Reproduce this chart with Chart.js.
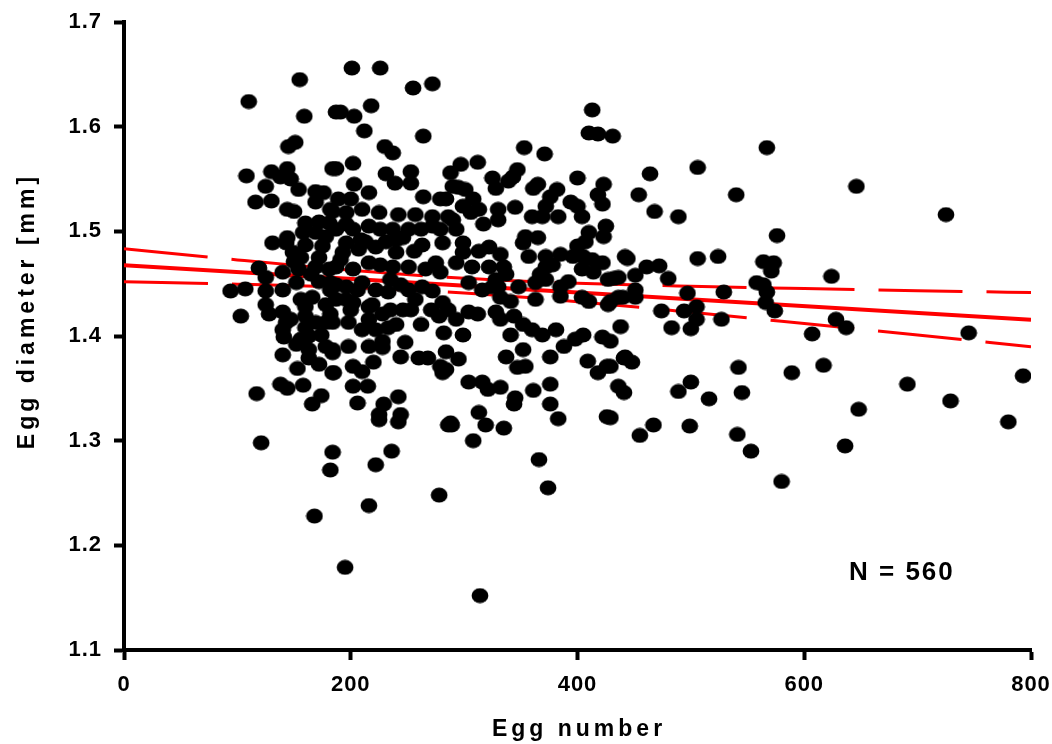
<!DOCTYPE html>
<html>
<head>
<meta charset="utf-8">
<script src="https://cdn.jsdelivr.net/npm/chart.js@4/dist/chart.umd.min.js"></script>
<style>
  body { margin: 0; background: #fff; }
  #wrap { width: 1052px; height: 744px; }
</style>
</head>
<body>
<div id="wrap"><canvas id="egg-chart"></canvas></div>
<script>
// egg number vs egg diameter (mm)
const eggNumber = [
  155,110,159,187,151,145,108,130,144,138,147,184,125,154,169,176,116,130,169,144,150,182,160,172,181,131,144,158,169,178,160,175,
  143,149,150,119,125,140,154,169,181,94,107,125,140,152,125,128,103,140,143,160,160,169,178,140,141,160,163,178,140,163,163,172,184,184,153,138,144,158,117,174,166,172,182,166,178,156,182,152,
  121,184,182,168,
  201,226,255,272,218,191,203,212,264,230,237,187,202,231,239,253,253,203,216,288,290,189,200,264,279,184,196,210,225,242,257,272,286,187,202,216,237,251,272,196,213,231,246,263,281,
  193,207,222,240,256,275,279,187,202,216,237,251,182,196,210,222,233,251,263,272,281,278,246,253,187,202,216,184,198,216,228,233,282,184,198,216,228,228,244,248,260,268,284,185,202,210,220,279,281,202,215,206,229,225,242,244,288,
  225,242,286,236,222,278,216,195,
  413,410,418,431,353,371,297,312,325,328,343,347,339,400,423,418,422,361,365,295,301,382,376,372,308,394,400,299,306,313,330,330,317,345,360,369,383,404,290,293,284,425,410,423,354,365,352,407,400,322,313,299,299,332,357,372,385,396,405,413,422,442,293,307,322,335,372,378,404,414,337,328,367,372,436,427,304,325,348,363,392,385,
  316,330,363,341,332,385,404,410,427,436,286,304,312,328,332,344,352,341,360,369,381,293,299,388,398,405,422,438,352,337,376,295,284,347,354,409,426,418,441,304,316,321,332,361,376,345,344,376,436,441,313,319,335,383,426,289,308,366,374,314,
  567,464,506,646,454,540,725,468,489,576,444,506,524,564,573,571,461,472,451,432,480,624,558,564,567,566,451,451,440,429,497,529,574,474,494,505,505,527,483,500,628,637,607,745,429,442,448,429,542,589,617,793,500,489,516,545,691,729,429,648,780,467,455,499,541,553,636,580,
  147,156,174,187,165,156,172,191,196,206,200,210,222,219,235,240,235,226,244,257,266,262,271,196,209,226,262,240,279
];
const eggDiameter = [
  1.645,1.624,1.610,1.614,1.585,1.581,1.553,1.557,1.560,1.552,1.550,1.560,1.543,1.540,1.538,1.537,1.528,1.529,1.528,1.521,1.519,1.521,1.508,1.509,1.508,1.489,1.494,1.499,1.499,1.495,1.487,1.486,
  1.489,1.480,1.471,1.465,1.456,1.461,1.464,1.466,1.464,1.443,1.445,1.443,1.444,1.451,1.430,1.421,1.419,1.423,1.413,1.428,1.419,1.413,1.413,1.406,1.399,1.408,1.400,1.390,1.382,1.387,1.379,1.373,1.384,1.365,1.369,1.354,1.350,1.353,1.345,1.343,1.335,1.452,1.444,1.437,1.430,1.435,1.421,1.392,
  1.298,1.289,1.272,1.228,
  1.656,1.656,1.637,1.641,1.620,1.614,1.610,1.596,1.591,1.581,1.575,1.560,1.565,1.555,1.546,1.557,1.546,1.545,1.537,1.556,1.543,1.531,1.531,1.533,1.531,1.519,1.518,1.521,1.518,1.516,1.516,1.514,1.514,1.502,1.502,1.505,1.502,1.502,1.505,1.489,1.490,1.490,1.494,1.487,1.489,
  1.480,1.483,1.485,1.480,1.481,1.470,1.461,1.466,1.464,1.470,1.466,1.466,1.451,1.447,1.451,1.444,1.442,1.444,1.447,1.443,1.432,1.419,1.425,1.425,1.435,1.432,1.428,1.413,1.413,1.416,1.421,1.408,1.403,1.387,1.390,1.390,1.395,1.389,1.380,1.394,1.379,1.379,1.385,1.365,1.371,1.366,1.375,1.371,1.365,1.352,1.352,1.336,1.335,1.325,1.342,1.325,1.317,
  1.320,1.318,1.315,1.290,1.277,1.248,1.238,1.179,
  1.616,1.594,1.593,1.591,1.580,1.574,1.564,1.566,1.551,1.541,1.552,1.559,1.548,1.551,1.545,1.535,1.526,1.541,1.545,1.542,1.540,1.540,1.533,1.524,1.531,1.528,1.524,1.524,1.518,1.521,1.521,1.511,1.507,1.523,1.514,1.514,1.514,1.514,1.511,1.502,1.531,1.505,1.499,1.495,1.495,1.494,1.489,1.490,1.486,1.485,1.481,1.489,1.480,1.478,1.476,1.476,1.478,1.476,1.476,1.473,1.470,1.476,1.470,1.466,1.466,1.466,1.466,1.468,1.464,1.461,1.459,1.454,1.459,1.454,1.456,1.454,1.451,1.447,1.447,1.451,1.452,1.447,
  1.444,1.447,1.435,1.433,1.437,1.438,1.437,1.433,1.430,1.437,1.425,1.423,1.421,1.423,1.416,1.419,1.411,1.401,1.406,1.401,1.406,1.416,1.401,1.390,1.397,1.401,1.399,1.409,1.387,1.380,1.380,1.378,1.368,1.370,1.371,1.376,1.371,1.365,1.379,1.356,1.356,1.349,1.351,1.348,1.354,1.341,1.335,1.335,1.352,1.346,1.327,1.315,1.312,1.321,1.323,1.315,1.300,1.282,1.255,1.152,
  1.580,1.555,1.561,1.543,1.535,1.535,1.516,1.519,1.514,1.496,1.474,1.474,1.476,1.471,1.470,1.462,1.466,1.467,1.458,1.455,1.455,1.457,1.451,1.449,1.442,1.432,1.444,1.437,1.437,1.433,1.441,1.442,1.424,1.424,1.424,1.428,1.416,1.416,1.408,1.407,1.416,1.408,1.402,1.403,1.395,1.380,1.375,1.371,1.370,1.365,1.372,1.362,1.356,1.347,1.340,1.346,1.354,1.338,1.322,1.330,1.318,1.315,1.305,1.314,1.306,1.290,1.295,1.261,
  1.416,1.397,1.401,1.449,1.459,1.475,1.475,1.473,1.435,1.444,1.425,1.406,1.406,1.430,1.425,1.411,1.454,1.468,1.449,1.435,1.464,1.411,1.425,1.507,1.492,1.502,1.502,1.492,1.502
];

// regression line and 95% band
const fitX = [0, 800];
const fitY = [1.4676, 1.4156];
const bandX = [0, 100, 200, 300, 400, 500, 600, 700, 800];
const bandUpper = [1.4834, 1.4727, 1.4629, 1.4551, 1.4504, 1.4475, 1.4453, 1.4433, 1.4415];
const bandLower = [1.4518, 1.4495, 1.4463, 1.4411, 1.4328, 1.4227, 1.4119, 1.4009, 1.3897];

const xTicks = [0, 200, 400, 600, 800];
const yTicks = [1.1, 1.2, 1.3, 1.4, 1.5, 1.6, 1.7];

const FONT = '"Liberation Sans", Arial, sans-serif';

// black oval marker
const dot = document.createElement('canvas');
dot.width = 18;
dot.height = 16;
const dctx = dot.getContext('2d');
dctx.fillStyle = '#000';
dctx.beginPath();
dctx.ellipse(9, 8, 8.4, 7.4, 0, 0, Math.PI * 2);
dctx.fill();

const pts = eggNumber.map((x, i) => ({ x: x, y: eggDiameter[i] }));
const toXY = (xs, ys) => xs.map((x, i) => ({ x: x, y: ys[i] }));

const textPlugin = {
    id: 'textPlugin',
    beforeDraw(chart) {
        chart.ctx.letterSpacing = '1px';
    },
    afterDraw(chart) {
        const ctx = chart.ctx;
        ctx.save();
        ctx.fillStyle = '#000';
        ctx.letterSpacing = '4px';
        ctx.font = 'bold 23px ' + FONT;
        ctx.textAlign = 'center';
        ctx.textBaseline = 'alphabetic';
        ctx.fillText('Egg number', 579, 736);

        ctx.save();
        ctx.translate(34, 313);
        ctx.rotate(-Math.PI / 2);
        ctx.fillText('Egg diameter [mm]', 2, 0);
        ctx.restore();

        ctx.letterSpacing = '2px';
        ctx.font = 'bold 26px ' + FONT;
        ctx.textAlign = 'left';
        ctx.fillText('N = 560', 849, 580);
        ctx.restore();
    }
};

const ctx = document.getElementById('egg-chart').getContext('2d');
new Chart(ctx, {
    type: 'scatter',
    data: {
        datasets: [
            {
                label: 'Eggs',
                data: pts,
                pointStyle: dot,
                pointRadius: 8,
                order: 0
            },
            {
                type: 'line',
                label: 'Fit',
                data: toXY(fitX, fitY),
                borderColor: '#ff0000',
                borderWidth: 4,
                pointRadius: 0,
                fill: false,
                order: 1
            },
            {
                type: 'line',
                label: 'Upper',
                data: toXY(bandX, bandUpper),
                borderColor: '#ff0000',
                borderWidth: 3,
                borderDash: [84, 24],
                cubicInterpolationMode: 'monotone',
                pointRadius: 0,
                fill: false,
                order: 2
            },
            {
                type: 'line',
                label: 'Lower',
                data: toXY(bandX, bandLower),
                borderColor: '#ff0000',
                borderWidth: 3,
                borderDash: [84, 24],
                cubicInterpolationMode: 'monotone',
                pointRadius: 0,
                fill: false,
                order: 2
            }
        ]
    },
    options: {
        responsive: true,
        maintainAspectRatio: false,
        animation: false,
        layout: { padding: { top: 22, right: 21, left: 0, bottom: 0 } },
        plugins: {
            legend: { display: false },
            tooltip: { enabled: false }
        },
        scales: {
            x: {
                type: 'linear',
                min: 0,
                max: 800,
                afterFit(scale) {
                    scale.height = 94;
                    scale.paddingLeft = 0;
                    scale.paddingRight = 0;
                },
                afterBuildTicks(scale) { scale.ticks = xTicks.map(v => ({ value: v })); },
                border: { color: '#000', width: 4 },
                grid: {
                    drawOnChartArea: false,
                    drawTicks: true,
                    tickLength: 10,
                    tickWidth: 4,
                    tickColor: '#000'
                },
                ticks: {
                    color: '#000',
                    padding: 12,
                    maxRotation: 0,
                    font: { family: FONT, size: 22, weight: 'bold' }
                }
            },
            y: {
                type: 'linear',
                min: 1.1,
                max: 1.7,
                afterFit(scale) {
                    scale.width = 124;
                    scale.paddingTop = 0;
                    scale.paddingBottom = 0;
                },
                afterBuildTicks(scale) { scale.ticks = yTicks.map(v => ({ value: v })); },
                border: { color: '#000', width: 4 },
                grid: {
                    drawOnChartArea: false,
                    drawTicks: true,
                    tickLength: 10,
                    tickWidth: 4,
                    tickColor: '#000'
                },
                ticks: {
                    color: '#000',
                    padding: 12,
                    font: { family: FONT, size: 22, weight: 'bold' },
                    callback: v => v.toFixed(1)
                }
            }
        }
    },
    plugins: [textPlugin]
});
</script>
</body>
</html>
